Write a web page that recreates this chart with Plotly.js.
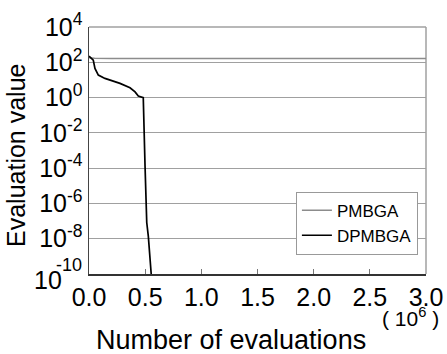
<!DOCTYPE html>
<html>
<head>
<meta charset="utf-8">
<script src="https://cdn.plot.ly/plotly-3.0.1.min.js"></script>
<style>html,body{margin:0;padding:0;background:#fff;}#chart{width:447px;height:354px;}</style>
</head>
<body>
<div id="chart"></div>
<script>
// Evaluations in units of 10^6
var pmbgaX = [0, 0.05, 0.2, 0.5, 1.0, 1.5, 2.0, 2.5, 3.0];
var pmbgaY = [180, 170, 166, 165, 164, 163, 163, 162, 162];

var dpmbgaX = [0, 0.038, 0.053, 0.083, 0.142, 0.187, 0.276, 0.365, 0.41, 0.439, 0.478, 0.483, 0.499, 0.514, 0.528, 0.552, 0.56];
var dpmbgaY = [222, 132, 45, 18.7, 12.2, 9.8, 6.4, 3.6, 2.1, 1.22, 1.03, 1.0, 1.26e-4, 8.3e-8, 1.4e-8, 1.2e-10, 3e-11];

var yTickVals = [1e-10, 1e-8, 1e-6, 1e-4, 1e-2, 1e0, 1e2, 1e4];
var yTickText = ['', '10<sup>-8</sup>', '10<sup>-6</sup>', '10<sup>-4</sup>', '10<sup>-2</sup>', '10<sup>0</sup>', '10<sup>2</sup>', '10<sup>4</sup>'];
var xTickVals = [0, 0.5, 1.0, 1.5, 2.0, 2.5, 3.0];
var xTickText = ['0.0', '0.5', '1.0', '1.5', '2.0', '2.5', '3.0'];

var FONT = "'Liberation Sans', Arial, sans-serif";

var traces = [
  {x: pmbgaX, y: pmbgaY, name: 'PMBGA', mode: 'lines', line: {color: '#8c8c8c', width: 1.5}},
  {x: dpmbgaX, y: dpmbgaY, name: 'DPMBGA', mode: 'lines', line: {color: '#000000', width: 1.7}}
];

var layout = {
  width: 447, height: 354,
  margin: {l: 89, r: 21, t: 27, b: 80},
  paper_bgcolor: '#ffffff', plot_bgcolor: '#ffffff',
  font: {family: FONT, color: '#000'},
  showlegend: true,
  legend: {
    x: 0.976, xanchor: 'right', y: 0.206, yanchor: 'middle',
    bgcolor: '#ffffff', bordercolor: '#999999', borderwidth: 1,
    font: {family: FONT, size: 17, color: '#000'},
    tracegroupgap: 0, itemwidth: 30
  },
  xaxis: {
    range: [0, 3.0], tickmode: 'array', tickvals: xTickVals, ticktext: xTickText,
    ticks: 'inside', ticklen: 5, tickcolor: '#777', tickwidth: 1,
    showline: true, linecolor: '#333', linewidth: 1.5, mirror: false,
    showgrid: false, zeroline: false,
    tickfont: {family: FONT, size: 25, color: '#000'}
  },
  yaxis: {
    type: 'log', range: [-10, 4], tickmode: 'array', tickvals: yTickVals, ticktext: yTickText,
    ticks: '', showline: true, linecolor: '#444', linewidth: 1.5, mirror: false,
    showgrid: true, gridcolor: '#a0a0a0', gridwidth: 1, zeroline: false,
    tickfont: {family: FONT, size: 25, color: '#000'}
  },
  shapes: [
    {type: 'line', xref: 'paper', yref: 'paper', x0: 1, x1: 1, y0: 0, y1: 1, line: {color: '#a0a0a0', width: 1.5}, layer: 'below'},
    {type: 'line', xref: 'paper', yref: 'paper', x0: 0, x1: 1, y0: 1, y1: 1, line: {color: '#a0a0a0', width: 1.5}, layer: 'below'}
  ],
  annotations: [
    {text: 'Evaluation value', xref: 'paper', yref: 'paper', x: -0.215, y: 0.48, textangle: -90,
     showarrow: false, xanchor: 'center', yanchor: 'middle', font: {family: FONT, size: 25, color: '#000'}},
    {text: 'Number of evaluations', xref: 'paper', yref: 'paper', x: 0.42, y: -0.268,
     showarrow: false, xanchor: 'center', yanchor: 'middle', font: {family: FONT, size: 27, color: '#000'}},
    {text: '( 10<sup>6</sup> )', xref: 'paper', yref: 'paper', x: 1.045, y: -0.174,
     showarrow: false, xanchor: 'right', yanchor: 'middle', font: {family: FONT, size: 21, color: '#000'}},
    {text: '10', xref: 'paper', yref: 'y', x: 0, y: -10, xshift: -25, yshift: -6,
     showarrow: false, xanchor: 'right', yanchor: 'middle', font: {family: FONT, size: 25, color: '#000'}},
    {text: '-10', xref: 'paper', yref: 'y', x: 0, y: -10, xshift: -5, yshift: 9,
     showarrow: false, xanchor: 'right', yanchor: 'middle', font: {family: FONT, size: 18, color: '#000'}}
  ]
};

Plotly.newPlot('chart', traces, layout, {displayModeBar: false, staticPlot: true});
</script>
</body>
</html>
